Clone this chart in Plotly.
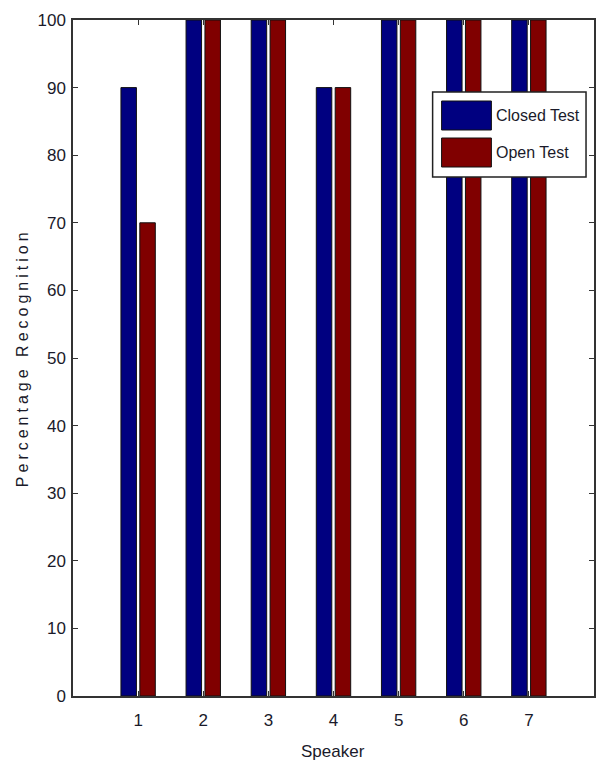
import plotly.graph_objects as go

# Recognition rates per speaker
speakers = [1, 2, 3, 4, 5, 6, 7]
closed_test = [90, 100, 100, 90, 100, 100, 100]
open_test = [70, 100, 100, 90, 100, 100, 100]
series_names = ["Closed Test", "Open Test"]
series_colors = ["#000080", "#800000"]
y_ticks = list(range(0, 101, 10))

W, H = 597, 765
L, R, T, B = 73, 1, 20, 69
PW, PH = W - L - R, H - T - B


def px_x(x):
    return (x - L) / PW


def px_y(y):
    return 1 - (y - T) / PH


label_family = "Liberation Sans Narrow, Arial Narrow, Liberation Sans, Arial"
tick_font = dict(family=label_family, size=17, color="#1a1a2a")

fig = go.Figure()
for name, vals, col in zip(series_names, [closed_test, open_test], series_colors):
    fig.add_trace(go.Bar(
        x=speakers, y=vals, name=name,
        marker=dict(color=col, line=dict(color="#111111", width=1)),
        showlegend=False,
    ))

fig.update_layout(
    width=W, height=H,
    margin=dict(l=L, r=R, t=T, b=B, pad=0),
    paper_bgcolor="white", plot_bgcolor="white",
    barmode="group", bargap=0.42, bargroupgap=0.18,
    xaxis=dict(
        range=[0, 8], tickvals=speakers, ticktext=[str(s) for s in speakers],
        ticks="inside", ticklen=5, tickcolor="#333333", tickwidth=1,
        showline=True, linecolor="#333333", linewidth=1.5, mirror="ticks",
        showgrid=False, zeroline=False, tickfont=tick_font, ticklabelstandoff=8,
    ),
    yaxis=dict(
        range=[0, 100], tickvals=y_ticks,
        ticks="inside", ticklen=5, tickcolor="#333333", tickwidth=1,
        showline=True, linecolor="#333333", linewidth=1.5, mirror="ticks",
        showgrid=False, zeroline=False, tickfont=tick_font, ticklabelstandoff=2,
    ),
)

# Axis titles
fig.add_annotation(
    text="Speaker", xref="paper", yref="paper",
    x=px_x(334), y=px_y(751), xanchor="center", yanchor="middle", showarrow=False,
    font=dict(family=label_family, size=17, color="#1a1a2a"),
)
fig.add_annotation(
    text="Percentage Recognition", xref="paper", yref="paper",
    x=px_x(22), y=px_y(358), xanchor="center", yanchor="middle",
    showarrow=False, textangle=-90,
    font=dict(family="Liberation Sans, Arial", size=16, color="#1a1a2a"),
)

# Legend box with swatches
fig.add_shape(type="rect", xref="paper", yref="paper",
              x0=px_x(434), x1=px_x(588), y0=px_y(92), y1=px_y(177),
              line=dict(color="#222222", width=1.5), fillcolor="white", layer="above")
for i, (name, col) in enumerate(zip(series_names, series_colors)):
    top = 101 + i * 37
    fig.add_shape(type="rect", xref="paper", yref="paper",
                  x0=px_x(443), x1=px_x(493), y0=px_y(top), y1=px_y(top + 29),
                  line=dict(color="#111111", width=1), fillcolor=col, layer="above")
    fig.add_annotation(
        text=name, xref="paper", yref="paper",
        x=px_x(496), y=px_y(top + 14.5), xanchor="left", yanchor="middle",
        showarrow=False,
        font=dict(family=label_family, size=16, color="#1a1a2a"),
    )

spacing_js = (
    "document.querySelectorAll('.annotation-text').forEach(function(e){"
    "if(e.textContent.indexOf('Percentage')===0){e.style.letterSpacing='4px';}});"
)
fig.write_html("out.html", post_script=spacing_js)
